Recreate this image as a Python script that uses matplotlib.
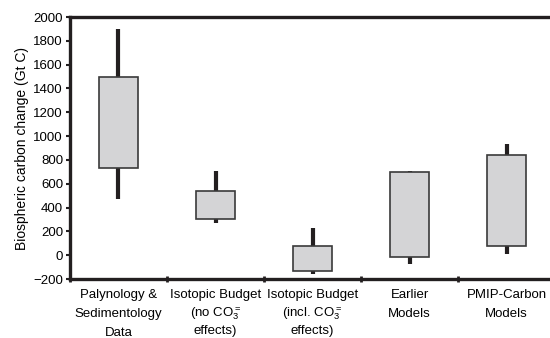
import numpy as np
import matplotlib
matplotlib.use("Agg")
from matplotlib import pyplot as plt

plt.rcParams['font.family'] = ['Liberation Sans', 'DejaVu Sans']
plt.rcParams['mathtext.fontset'] = 'custom'
plt.rcParams['mathtext.rm'] = 'Liberation Sans'
plt.rcParams['mathtext.it'] = 'Liberation Sans'

labels = ["Palynology &\nSedimentology\nData",
          "Isotopic Budget\n(no CO$_3^{=}$\neffects)",
          "Isotopic Budget\n(incl. CO$_3^{=}$\neffects)",
          "Earlier\nModels",
          "PMIP-Carbon\nModels"]
box_low = [730, 300, -130, -15, 80]
box_high = [1500, 540, 80, 700, 840]
whisker_low = [470, 270, -160, -70, 10]
whisker_high = [1900, 710, 230, 710, 930]

dark = "#231f20"

fig = plt.figure(figsize=(5.5, 3.38), dpi=100)
ax = fig.add_axes([70/550, 59/338, 485/550, 262/338])

x = np.arange(len(labels))
ax.vlines(x, whisker_low, box_low, color=dark, lw=3, zorder=1)
ax.vlines(x, box_high, whisker_high, color=dark, lw=3, zorder=1)
ax.bar(x, np.array(box_high) - np.array(box_low), bottom=box_low, width=0.4,
       color="#d4d4d6", edgecolor="#3a3a3a", linewidth=1.2, zorder=2)

ax.set_xlim(-0.5, 4.5)
ax.set_ylim(-200, 2000)
ax.set_yticks(np.arange(-200, 2001, 200))
ax.set_xticks(x)
ax.set_xticklabels(labels, fontsize=9.5, linespacing=1.8)
# the lines holding CO3 are taller, so tighten their spacing
for lab in ax.get_xticklabels():
    if '$' in lab.get_text():
        lab.set_linespacing(1.38)
ax.set_xticks(np.arange(-0.5, 4.6, 1), minor=True)
ax.tick_params(axis='x', which='major', length=0, pad=7)
ax.tick_params(axis='x', which='minor', direction='inout', length=4, width=2, color=dark)
ax.tick_params(axis='y', direction='out', length=3, width=1.5, color=dark,
               labelsize=9.5, pad=2)
ax.set_ylabel("Biospheric carbon change (Gt C)", fontsize=10, labelpad=3)

for side in ['top', 'bottom', 'left']:
    ax.spines[side].set_linewidth(2.4)
    ax.spines[side].set_color(dark)
ax.spines['right'].set_visible(False)

fig.savefig("out.png", dpi=100)
